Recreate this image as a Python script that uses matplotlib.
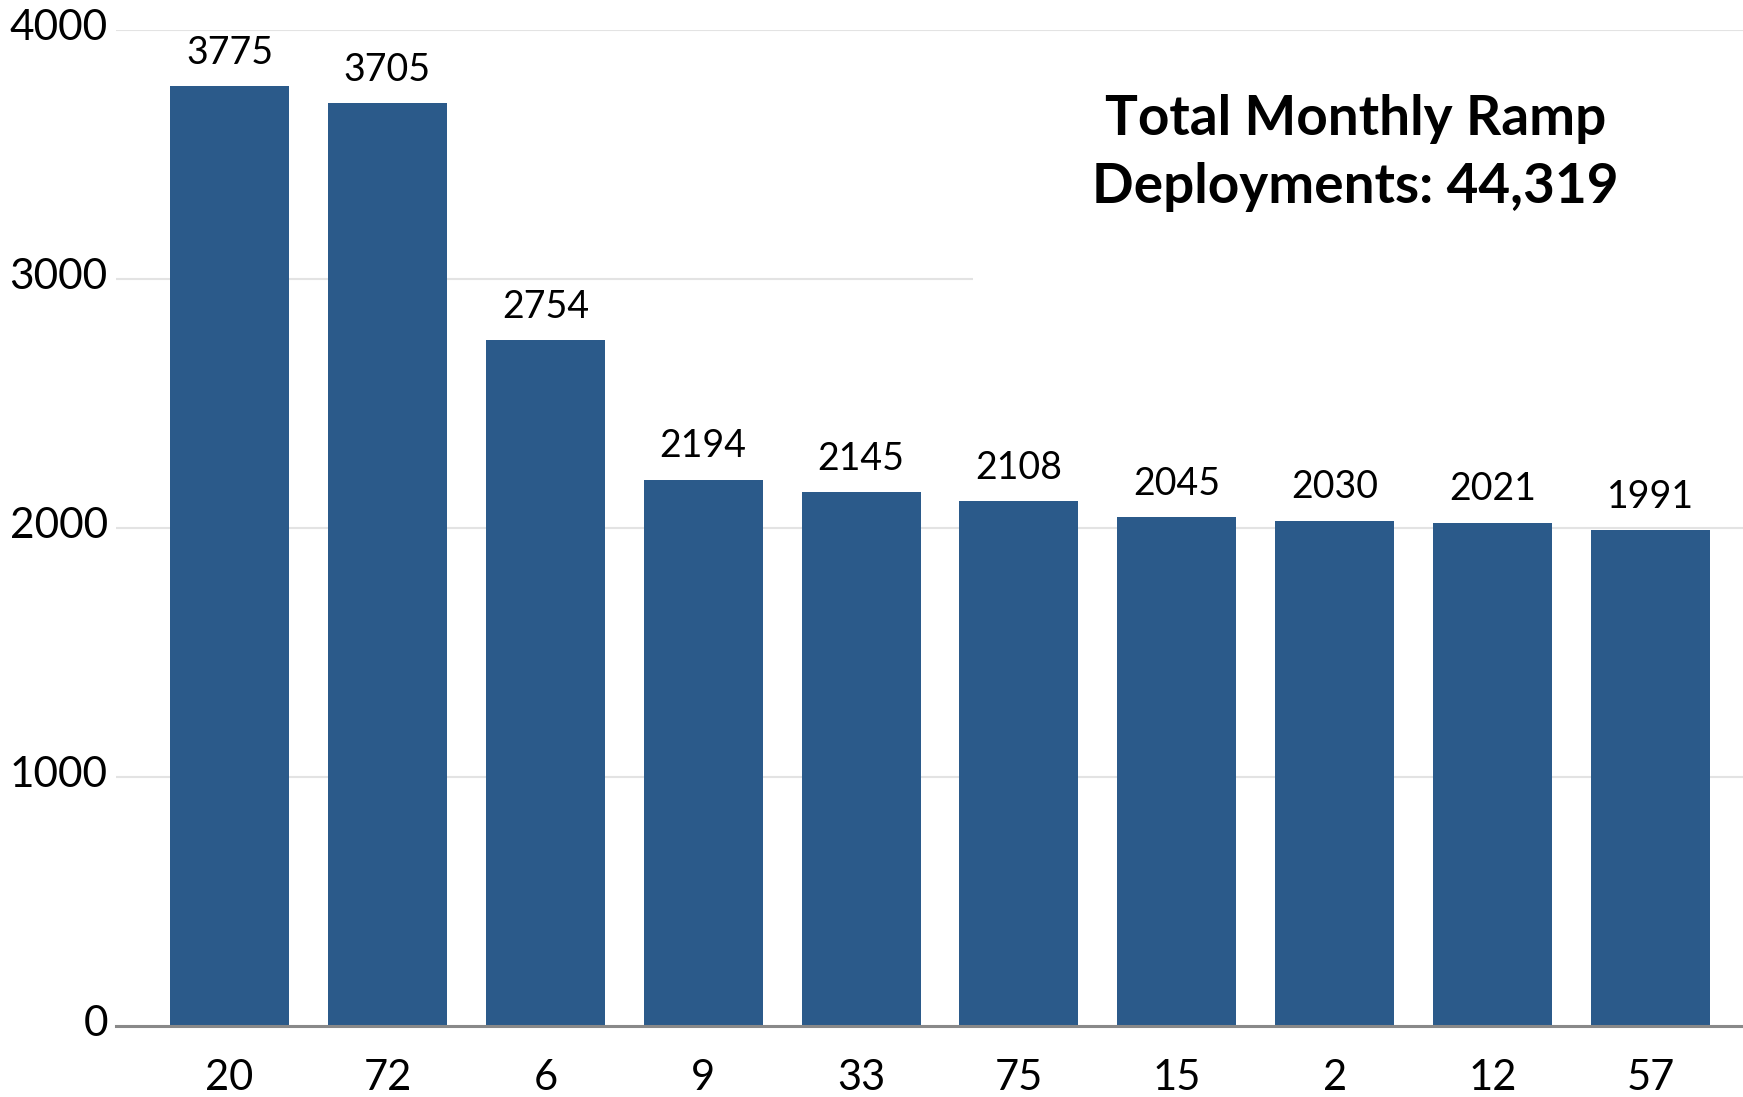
import matplotlib.pyplot as plt
from matplotlib.patches import Rectangle
from matplotlib.transforms import blended_transform_factory, ScaledTranslation

# datos del grafico
categorias = ['20', '72', '6', '9', '33', '75', '15', '2', '12', '57']
valores = [3775, 3705, 2754, 2194, 2145, 2108, 2045, 2030, 2021, 1991]
titulo = 'Total Monthly Ramp\nDeployments: 44,319'

plt.rcParams['font.family'] = ['Lato', 'DejaVu Sans']
color_barra = '#2B5A8A'

fig = plt.figure(figsize=(17.43, 10.97), dpi=100)
ax = fig.add_axes([0.0666, 0.0647, 0.9334, 0.908])

x = range(len(categorias))

# lineas de la cuadricula
for v in [1000, 2000, 3000, 4000]:
    ax.axhline(v, color='#E3E3E3', linewidth=1.5, zorder=0.5)

# fondo blanco del cuadro de texto (tapa parte de la cuadricula)
trans = blended_transform_factory(ax.transAxes, ax.transData)
ax.add_patch(Rectangle((0.527, 2550), 0.473, 1250, transform=trans,
                       facecolor='white', edgecolor='none', zorder=1))

ax.bar(x, valores, width=0.754, color=color_barra, zorder=2)

# etiquetas de valores
for i, v in enumerate(valores):
    ax.annotate(str(v), (i, v), xytext=(0, 11), textcoords='offset points',
                ha='center', va='bottom', fontsize=27, color='black')

ax.text(0.762, 3505, titulo, transform=trans, ha='center', va='center',
        fontsize=39.5, fontweight='bold', linespacing=1.45, zorder=3)

ax.set_xlim(-0.719, 9.586)
ax.set_ylim(0, 4000)
ax.set_xticks(list(x))
ax.set_xticklabels(categorias, fontsize=30)
ax.set_yticks([0, 1000, 2000, 3000, 4000])
ax.set_yticklabels(['0', '1000', '2000', '3000', '4000'], fontsize=30.5)
ax.tick_params(axis='x', length=0, pad=24)
ax.tick_params(axis='y', length=0, pad=6)

# subir un poco las etiquetas del eje y
desplazamiento = ScaledTranslation(0, 4 / 72, fig.dpi_scale_trans)
for lbl in ax.get_yticklabels():
    lbl.set_transform(lbl.get_transform() + desplazamiento)

for s in ['top', 'right', 'left']:
    ax.spines[s].set_visible(False)
ax.spines['bottom'].set_color('#898989')
ax.spines['bottom'].set_linewidth(2.2)
ax.spines['bottom'].set_zorder(3)

fig.savefig('out.png', dpi=100)
